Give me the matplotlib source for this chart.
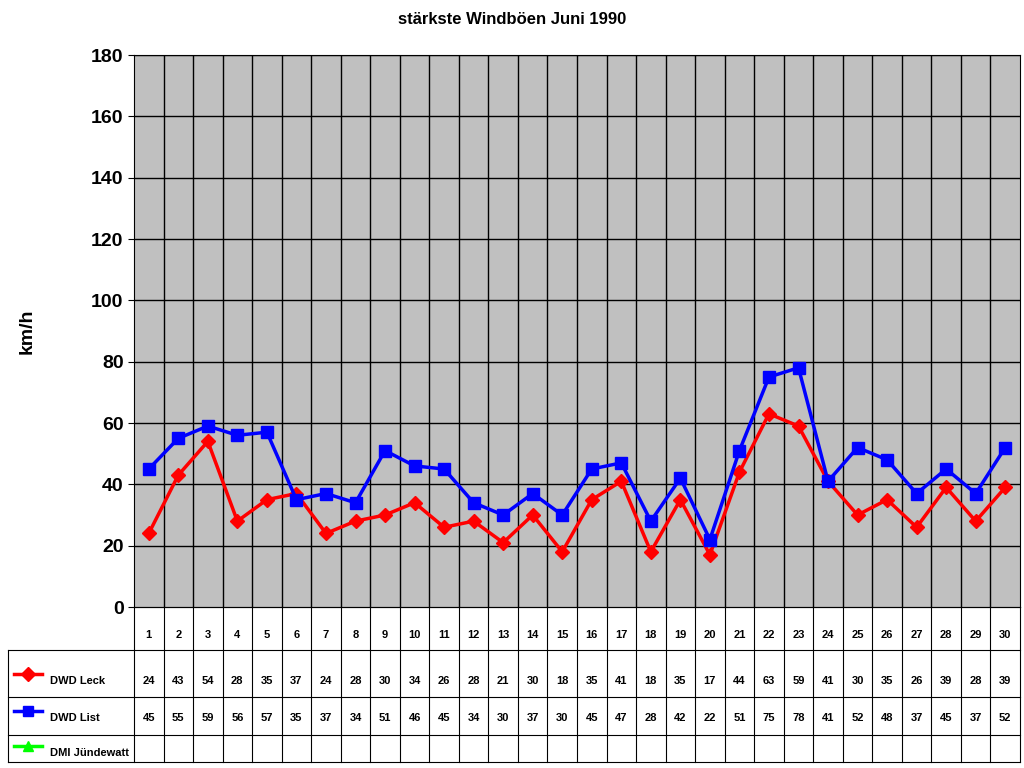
import numpy as np
import matplotlib.pyplot as plt

plt.rcParams['font.family'] = ['Liberation Sans', 'DejaVu Sans']

days = list(range(1, 31))
leck = [24, 43, 54, 28, 35, 37, 24, 28, 30, 34, 26, 28, 21, 30, 18, 35, 41, 18, 35, 17,
        44, 63, 59, 41, 30, 35, 26, 39, 28, 39]
liste = [45, 55, 59, 56, 57, 35, 37, 34, 51, 46, 45, 34, 30, 37, 30, 45, 47, 28, 42, 22,
         51, 75, 78, 41, 52, 48, 37, 45, 37, 52]
series = [("DWD Leck", leck, "red", "D"), ("DWD List", liste, "blue", "s"),
          ("DMI Jündewatt", None, "lime", "^")]

W, H = 1024, 768
fig = plt.figure(figsize=(W / 100, H / 100), dpi=100)
fig.text(0.5, 1 - 20 / H, "stärkste Windböen Juni 1990", ha="center", va="center",
         fontsize=12, fontweight="bold")

# plot area
x0, x1, y0, y1 = 134, 1020, 607, 55
ax = fig.add_axes([x0 / W, 1 - y0 / H, (x1 - x0) / W, (y0 - y1) / H])
ax.set_facecolor("#c0c0c0")
ax.set_xlim(0.5, 30.5)
ax.set_ylim(0, 180)
ax.set_yticks(range(0, 181, 20))
ax.tick_params(axis="y", labelsize=14, length=4)
for t in ax.get_yticklabels():
    t.set_fontweight("bold")
ax.set_xticks([])
for y in range(20, 181, 20):
    ax.axhline(y, color="black", lw=1)
for x in np.arange(1.5, 30.5, 1):
    ax.axvline(x, color="black", lw=1)
for s in ax.spines.values():
    s.set_color("black")
ax.set_ylabel("km/h", fontsize=14, fontweight="bold", labelpad=40)
for name, vals, col, mk in series:
    if vals is None:
        continue
    ax.plot(days, vals, color=col, lw=2.5, marker=mk, ms=8 if mk == "s" else 7)

# data table
tx = fig.add_axes([0, 0, 1, 1], facecolor="none")
tx.set_xlim(0, W)
tx.set_ylim(H, 0)
tx.axis("off")
cw = (x1 - x0) / 30
rows = [607, 650, 697, 735, 762]
for i in range(31):
    xx = x0 + i * cw
    tx.plot([xx, xx], [607, 762], color="black", lw=0.8)
tx.plot([8, 8], [650, 762], color="black", lw=0.8)
tx.plot([x0, x1], [607, 607], color="black", lw=0.8)
for r in rows[1:]:
    tx.plot([8, x1], [r, r], color="black", lw=0.8)
for i, d in enumerate(days):
    tx.text(x0 + (i + 0.5) * cw, 635, str(d), ha="center", va="center", fontsize=8, fontweight="bold")
text_y = [681, 718, 753]
for (name, vals, col, mk), ty in zip(series, text_y):
    tx.plot([14, 42], [ty - 7, ty - 7], color=col, lw=2.5)
    tx.plot([28], [ty - 7], color=col, marker=mk, ms=7)
    tx.text(50, ty, name, ha="left", va="center", fontsize=8, fontweight="bold")
    if vals is not None:
        for i, v in enumerate(vals):
            tx.text(x0 + (i + 0.5) * cw, ty, str(v), ha="center", va="center", fontsize=8, fontweight="bold")

fig.savefig("out.png", dpi=100)
